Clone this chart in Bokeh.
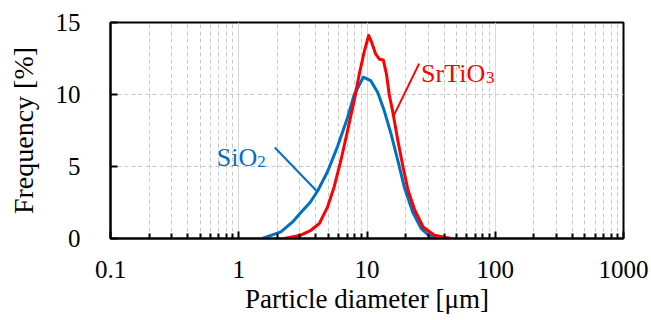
from bokeh.plotting import figure
from bokeh.models import Range1d, FixedTicker, Label
from bokeh.embed import file_html
from bokeh.resources import INLINE

# ---- data ----
sio2_d = [1.53, 2.13, 2.63, 3.05, 3.6, 4.12, 4.93, 5.90, 7.06, 7.96, 9.35, 10.7,
          12.1, 13.6, 15.4, 17.4, 19.5, 22.7, 26.4, 30.0, 34.6]
sio2_f = [0, 0.46, 1.15, 1.8, 2.5, 3.3, 4.65, 6.4, 8.4, 10.0, 11.2, 10.96,
          10.15, 8.9, 7.27, 5.4, 3.6, 1.84, 0.7, 0.25, 0]

srtio3_d = [2.26, 3.05, 3.65, 4.25, 4.93, 5.55, 6.25, 7.06, 7.96, 8.70, 9.53, 10.3,
            10.9, 11.7, 12.5, 13.4, 14.2, 14.9, 15.8, 17.4, 19.1, 20.9, 23.6, 27.4,
            33.5, 45.3]
srtio3_f = [0, 0.23, 0.57, 1.04, 2.2, 3.6, 5.4, 7.5, 9.6, 11.4, 13.0, 14.1,
            13.6, 12.8, 12.45, 12.4, 11.4, 10.0, 8.9, 6.8, 4.96, 3.35, 1.96, 0.8,
            0.23, 0]

x_ticks = [0.1, 1, 10, 100, 1000]
x_tick_labels = ["0.1", "1", "10", "100", "1000"]
y_ticks = [0, 5, 10, 15]

# label anchors (diameter, frequency) and leader lines
sio2_label = ("SiO", "2", 0.673, 5.63)
srtio3_label = ("SrTiO", "3", 26.4, 11.48)
sio2_leader_d = [1.91, 4.07]
sio2_leader_f = [6.32, 3.28]
srtio3_leader_d = [25.5, 16.3]
srtio3_leader_f = [12.14, 8.6]

BLUE = "#0070C0"
RED = "#FF0000"
FONT = "Liberation Serif"

p = figure(width=651, height=320, x_axis_type="log",
           x_range=Range1d(0.1, 1000), y_range=Range1d(0, 15),
           output_backend="svg", toolbar_location=None,
           min_border_left=110, min_border_right=28,
           min_border_top=22, min_border_bottom=82)
p.background_fill_color = "white"
p.border_fill_color = "white"
p.outline_line_color = "black"
p.outline_line_width = 2

minor = [m * 10 ** e for e in range(-1, 3) for m in range(2, 10)]
xt = FixedTicker(ticks=x_ticks, minor_ticks=minor)
p.xaxis.ticker = xt
p.xgrid.ticker = xt
p.xaxis.major_label_overrides = {t: l for t, l in zip(x_ticks, x_tick_labels)}
p.yaxis.ticker = FixedTicker(ticks=y_ticks)
p.ygrid.ticker = FixedTicker(ticks=y_ticks)

p.xgrid.grid_line_color = "#d9d9d9"
p.xgrid.grid_line_width = 1
p.xgrid.minor_grid_line_color = "#c8c8c8"
p.xgrid.minor_grid_line_dash = "4 3"
p.ygrid.grid_line_color = "#c8c8c8"
p.ygrid.grid_line_dash = "4 3"

for ax in (p.xaxis, p.yaxis):
    ax.axis_line_color = "black"
    ax.axis_line_width = 2
    ax.major_tick_in = 7
    ax.major_tick_out = 0
    ax.major_tick_line_width = 2
    ax.major_tick_line_color = "black"
    ax.major_label_text_font = FONT
    ax.major_label_text_font_size = "25px"
    ax.major_label_text_color = "black"
    ax.axis_label_text_font = FONT
    ax.axis_label_text_font_style = "normal"
    ax.axis_label_text_color = "black"
p.xaxis.axis_label_text_font_size = "27px"
p.yaxis.axis_label_text_font_size = "28px"

p.xaxis.minor_tick_in = 5
p.xaxis.minor_tick_out = 0
p.xaxis.minor_tick_line_width = 2
p.xaxis.minor_tick_line_color = "black"
p.yaxis.minor_tick_line_color = None

p.xaxis.axis_label = "Particle diameter [μm]"
p.yaxis.axis_label = "Frequency [%]"
p.xaxis.major_label_standoff = 22
p.yaxis.major_label_standoff = 30
p.xaxis.axis_label_standoff = 3
p.yaxis.axis_label_standoff = 14

p.line(sio2_d, sio2_f, line_color=BLUE, line_width=3, line_join="round")
p.line(srtio3_d, srtio3_f, line_color=RED, line_width=3, line_join="round")
p.line(sio2_leader_d, sio2_leader_f, line_color=BLUE, line_width=2)
p.line(srtio3_leader_d, srtio3_leader_f, line_color=RED, line_width=2)

for (main, sub, d, f), col, w in ((sio2_label, BLUE, 40.5), (srtio3_label, RED, 65.0)):
    p.add_layout(Label(x=d, y=f, text=main, text_color=col, text_font=FONT,
                       text_font_size="26px", text_baseline="alphabetic",
                       text_align="left"))
    p.add_layout(Label(x=d, y=f, text=sub, text_color=col, text_font=FONT,
                       text_font_size="17px", text_baseline="alphabetic",
                       text_align="left", x_offset=w, y_offset=-4))

open("out.html", "w").write(file_html(p, INLINE))
